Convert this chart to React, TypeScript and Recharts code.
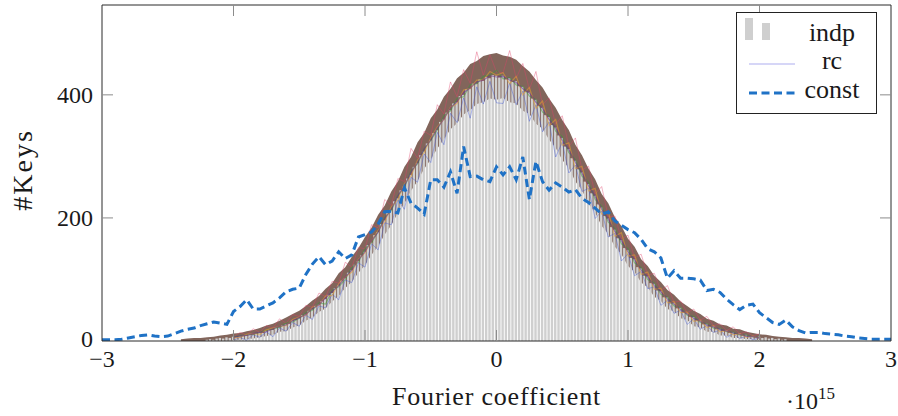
import React from 'react';
import { ComposedChart, Bar, Line, Area, XAxis, YAxis, Legend } from 'recharts';

// ---------------- data ----------------
const X_TICKS = [-3, -2, -1, 0, 1, 2, 3];
const Y_TICKS = [0, 200, 400];
const Y_MAX = 546;
const X_LABEL = 'Fourier coefficient';
const Y_LABEL = '#Keys';
const SERIES_NAMES = ['indp', 'rc', 'const'];

// histogram "indp": bins of width 0.025 from -2.2 to 2.2
const INDP_START = -2.2;
const INDP_STEP = 0.025;
const indpCounts = [
  2, 3, 2, 4, 5, 4, 6, 5, 7, 6,
  8, 8, 9, 11, 10, 12, 14, 13, 16, 18,
  18, 22, 22, 26, 27, 28, 33, 34, 37, 42,
  43, 49, 51, 57, 59, 65, 68, 75, 78, 86,
  90, 98, 102, 111, 115, 124, 130, 139, 145, 156,
  160, 172, 177, 190, 196, 208, 213, 227, 232, 245,
  251, 264, 270, 283, 289, 302, 308, 321, 326, 338,
  343, 356, 360, 371, 375, 386, 388, 398, 400, 409,
  410, 418, 418, 425, 423, 429, 427, 432,
  431,
  428, 431, 425, 427, 421, 422, 414, 413, 405, 404,
  394, 392, 382, 379, 367, 364, 351, 347, 334, 330,
  316, 312, 297, 293, 279, 274, 259, 255, 240, 236,
  222, 217, 203, 199, 185, 181, 167, 164, 151, 148,
  135, 133, 120, 118, 106, 105, 94, 93, 82, 81,
  71, 71, 61, 62, 53, 54, 46, 45, 39, 39,
  33, 33, 27, 28, 23, 24, 19, 20, 16, 17,
  13, 14, 11, 12, 9, 10, 7, 8, 6, 7,
  5, 6, 4, 5, 3, 4, 2, 3,
];

// "rc": envelope of the many runs, step 0.05 from -2.4 to 2.4
const RC_BAND_START = -2.4;
const RC_BAND_STEP = 0.05;
const rcLow = [
  0, 0, 0, 0, 0, 0, 0, 0, 1, 2,
  3, 4, 6, 8, 10, 15, 16, 22, 25, 33,
  38, 47, 53, 64, 73, 86, 96, 111, 123, 140,
  154, 173, 188, 208, 224, 244, 260, 280, 295, 313,
  328, 344, 354, 368, 375, 385, 388, 394,
  392,
  395, 388, 386, 374, 369, 353, 345, 327, 314, 294,
  281, 259, 245, 223, 209, 187, 174, 153, 141, 122,
  112, 95, 87, 72, 65, 52, 48, 37, 34, 24,
  22, 15, 15, 9, 9, 5, 5, 3, 3, 1,
  0, 0, 0, 0, 0, 0, 0, 0,
];
const rcHigh = [
  3, 4, 5, 5, 6, 7, 9, 10, 12, 13,
  16, 18, 21, 25, 28, 33, 38, 44, 49, 57,
  66, 73, 85, 94, 110, 120, 137, 151, 169, 184,
  205, 220, 243, 259, 283, 299, 323, 338, 362, 376,
  397, 410, 427, 436, 450, 455, 463, 466,
  468,
  464, 462, 457, 447, 438, 424, 412, 394, 379, 359,
  343, 319, 302, 280, 263, 239, 224, 201, 187, 166,
  153, 133, 122, 106, 96, 83, 75, 64, 57, 49,
  44, 36, 33, 27, 25, 20, 19, 15, 13, 11,
  10, 8, 7, 6, 5, 5, 4, 3,
];

// a few individual "rc" runs, step 0.05 from -2 to 2
const RC_LINE_START = -2.0;
const RC_LINE_STEP = 0.05;
const rcRunA = [
  7, 14, 10, 20, 14, 25, 21, 36, 29, 43, 40, 58, 55, 78, 72, 97, 94, 128, 120, 152,
  150, 189, 184, 230, 220, 264, 259, 313, 297, 341, 334, 384, 369, 421, 397, 441, 419, 470, 432, 465,
  437,
  436, 472, 427, 451, 409, 438, 384, 395, 352, 366, 316, 330, 278, 284, 239, 251, 202, 203, 166, 172,
  135, 141, 107, 110, 82, 90, 63, 65, 46, 52, 34, 40, 25, 28, 17, 23, 12, 15, 8, 12,
];
const rcRunB = [
  1, 6, 1, 10, 6, 15, 7, 21, 16, 30, 24, 42, 35, 57, 54, 76, 67, 99, 95, 127,
  120, 158, 148, 192, 189, 229, 214, 266, 258, 304, 290, 339, 319, 370, 355, 395, 362, 413, 385, 422,
  387,
  386, 419, 384, 406, 357, 384, 340, 356, 299, 323, 273, 286, 243, 248, 199, 211, 169, 175, 130, 142,
  106, 113, 85, 88, 58, 66, 45, 50, 27, 36, 19, 25, 14, 18, 6, 12, 4, 8, 2, 5,
];
const rcRunC = [
  7, 8, 10, 11, 14, 17, 20, 22, 29, 31, 37, 46, 50, 62, 60, 82, 88, 100, 120, 128,
  150, 160, 178, 201, 212, 236, 250, 276, 288, 312, 326, 343, 366, 374, 394, 397, 416, 418, 430, 432,
  440,
  426, 428, 416, 414, 398, 392, 372, 366, 341, 332, 306, 295, 268, 258, 230, 219, 193, 183, 158, 150,
  127, 119, 100, 94, 76, 71, 57, 54, 42, 40, 30, 28, 21, 20, 15, 14, 10, 9, 7, 5,
];
const rcRunD = [
  5, 6, 11, 12, 11, 18, 21, 24, 25, 35, 39, 42, 55, 58, 73, 74, 93, 104, 112, 133,
  143, 163, 180, 194, 218, 230, 256, 268, 294, 306, 330, 348, 360, 380, 386, 408, 410, 424, 424, 438,
  432,
  436, 418, 430, 400, 412, 378, 390, 350, 360, 318, 322, 280, 284, 244, 248, 206, 210, 170, 176, 138,
  140, 108, 112, 84, 86, 62, 64, 46, 47, 32, 34, 22, 25, 15, 17, 10, 12, 6, 8, 4,
];
const rcRunE = [
  6, 8, 9, 12, 14, 15, 20, 24, 26, 33, 38, 43, 53, 59, 70, 80, 90, 104, 115, 132,
  145, 163, 177, 199, 214, 236, 252, 274, 290, 312, 327, 346, 361, 379, 389, 404, 411, 421, 424, 431,
  429,
  430, 424, 420, 410, 403, 388, 378, 360, 346, 326, 311, 290, 273, 252, 235, 214, 198, 178, 163, 145,
  132, 115, 104, 90, 80, 68, 60, 51, 44, 37, 32, 26, 23, 19, 16, 13, 11, 8, 7, 5,
];

// "const": step 0.05 from -3 to 3
const CONST_START = -3;
const CONST_STEP = 0.05;
const constCounts = [
  2, 2, 2, 3, 5, 7, 9, 10, 8, 7,
  8, 12, 16, 19, 21, 25, 28, 31, 29, 27,
  48, 56, 67, 52, 52, 57, 62, 70, 80, 84,
  86, 108, 125, 137, 124, 130, 145, 134, 140, 169,
  173, 177, 190, 210, 211, 208, 249, 224, 216, 206,
  262, 262, 250, 275, 240, 316, 267, 268, 262, 259,
  283,
  270, 283, 262, 299, 230, 292, 259, 245, 257, 250,
  242, 246, 232, 225, 216, 206, 210, 195, 188, 181,
  176, 165, 150, 145, 135, 102, 114, 102, 102, 101,
  99, 82, 84, 79, 68, 59, 51, 58, 60, 46,
  38, 30, 27, 34, 23, 17, 13, 14, 14, 12,
  11, 10, 8, 7, 5, 4, 3, 3, 3, 3,
];

// ---------------- derived tables ----------------
const at = (start: number, step: number, i: number) => +(start + i * step).toFixed(4);

const indpData = indpCounts.map((v, i) => ({ x: at(INDP_START, INDP_STEP, i), indp: v }));
const rcBandData = rcLow.map((lo, i) => ({ x: at(RC_BAND_START, RC_BAND_STEP, i), band: [lo, rcHigh[i]] }));
const rcRunData = rcRunA.map((a, i) => ({
  x: at(RC_LINE_START, RC_LINE_STEP, i),
  a,
  b: rcRunB[i],
  c: rcRunC[i],
  d: rcRunD[i],
  e: rcRunE[i],
}));
const constData = constCounts.map((v, i) => ({ x: at(CONST_START, CONST_STEP, i), v }));

// ---------------- styling / layout ----------------
const W = 898;
const H = 416;
const PLOT = { left: 102, right: 891, top: 5, bottom: 341 };
const AX = 1; // thickness reserved for each axis box
const MARGIN = {
  top: PLOT.top - AX,
  right: W - PLOT.right - AX,
  bottom: H - PLOT.bottom - AX,
  left: PLOT.left - AX,
};
const FONT = '"Liberation Serif", "Times New Roman", serif';
const TXT = '#1a1a1a';
const TICK_COLOR = '#8c8c8c';
const TICK_LEN = 11;
const FRAME = '#2b2b2b';
const BAR_COLOR = '#cfcfcf';
const BAND_COLOR = '#6c4a3e';
const CONST_COLOR = '#1f72c6';
const RC_LEGEND_COLOR = '#c9c9f5';
const RUNS = [
  { key: 'a', color: '#e0406a', op: 0.4, w: 1 },
  { key: 'b', color: '#3850d8', op: 0.4, w: 1 },
  { key: 'c', color: '#3a9a3a', op: 0.5, w: 1.2 },
  { key: 'd', color: '#e8a030', op: 0.55, w: 1.2 },
  { key: 'e', color: '#6a2c91', op: 0.55, w: 1.2 },
];

const fmtX = (v: number) => (v < 0 ? '\u2212' + Math.abs(v) : String(v));
const isEnd = (v: number) => v === X_TICKS[0] || v === X_TICKS[X_TICKS.length - 1];

const BottomTick = (p: any) => (
  <g>
    {!isEnd(p.payload.value) && (
      <line x1={p.x} x2={p.x} y1={PLOT.bottom} y2={PLOT.bottom - TICK_LEN} stroke={TICK_COLOR} />
    )}
    <text x={p.x} y={PLOT.bottom + 26} textAnchor="middle" fontFamily={FONT} fontSize={24} fill={TXT}>
      {fmtX(p.payload.value)}
    </text>
  </g>
);
const TopTick = (p: any) =>
  isEnd(p.payload.value) ? <g /> : (
    <line x1={p.x} x2={p.x} y1={PLOT.top} y2={PLOT.top + TICK_LEN} stroke={TICK_COLOR} />
  );
const LeftTick = (p: any) => (
  <g>
    {p.payload.value !== 0 && (
      <line x1={PLOT.left} x2={PLOT.left + TICK_LEN} y1={p.y} y2={p.y} stroke={TICK_COLOR} />
    )}
    <text x={PLOT.left - 9} y={p.y + (p.payload.value === 0 ? 6 : 8)} textAnchor="end" fontFamily={FONT} fontSize={24} fill={TXT}>
      {p.payload.value}
    </text>
  </g>
);
const RightTick = (p: any) =>
  p.payload.value === 0 ? <g /> : (
    <line x1={PLOT.right - TICK_LEN} x2={PLOT.right} y1={p.y} y2={p.y} stroke={TICK_COLOR} />
  );

const renderLegend = () => (
  <svg width={141} height={102} style={{ display: 'block' }}>
    <rect x={0.5} y={0.5} width={140} height={101} fill="#fff" stroke="#222" strokeWidth={1} />
    <rect x={9} y={6} width={8} height={22} fill={BAR_COLOR} />
    <rect x={26} y={11} width={8} height={17} fill={BAR_COLOR} />
    <text x={96} y={29} textAnchor="middle" fontFamily={FONT} fontSize={26} fill={TXT}>{SERIES_NAMES[0]}</text>
    <line x1={13} x2={59} y1={52} y2={52} stroke={RC_LEGEND_COLOR} strokeWidth={1.5} />
    <text x={96} y={57} textAnchor="middle" fontFamily={FONT} fontSize={26} fill={TXT}>{SERIES_NAMES[1]}</text>
    <line x1={13} x2={59} y1={81} y2={81} stroke={CONST_COLOR} strokeWidth={3} strokeDasharray="8 4.5" />
    <text x={96} y={86} textAnchor="middle" fontFamily={FONT} fontSize={26} fill={TXT}>{SERIES_NAMES[2]}</text>
  </svg>
);

const xAxisCommon = {
  dataKey: 'x',
  type: 'number' as const,
  domain: [X_TICKS[0], X_TICKS[X_TICKS.length - 1]] as [number, number],
  ticks: X_TICKS,
  allowDataOverflow: true,
  height: AX,
  tickLine: false,
  axisLine: { stroke: FRAME },
  interval: 0 as const,
};
const yAxisCommon = {
  type: 'number' as const,
  domain: [0, Y_MAX] as [number, number],
  ticks: Y_TICKS,
  allowDataOverflow: true,
  width: AX,
  tickLine: false,
  axisLine: { stroke: FRAME },
  interval: 0 as const,
};

export default function App() {
  return (
    <div style={{ position: 'absolute', left: 0, top: 0, width: W, height: H, background: '#fff' }}>
      <ComposedChart width={W} height={H} data={indpData} margin={MARGIN} style={{ fontFamily: FONT }}>
        <Bar xAxisId="x" yAxisId="y" dataKey="indp" fill={BAR_COLOR} barSize={2.4} isAnimationActive={false} legendType="none" />
        <Area
          xAxisId="x"
          yAxisId="y"
          data={rcBandData}
          dataKey="band"
          type="linear"
          stroke="none"
          fill={BAND_COLOR}
          fillOpacity={0.85}
          isAnimationActive={false}
          legendType="none"
        />
        {RUNS.map((r) => (
          <Line
            key={r.key}
            xAxisId="x"
            yAxisId="y"
            data={rcRunData}
            dataKey={r.key}
            type="linear"
            stroke={r.color}
            strokeOpacity={r.op}
            strokeWidth={r.w}
            dot={false}
            activeDot={false}
            isAnimationActive={false}
            legendType="none"
          />
        ))}
        <Line
          xAxisId="x"
          yAxisId="y"
          data={constData}
          dataKey="v"
          type="linear"
          stroke={CONST_COLOR}
          strokeWidth={3}
          strokeDasharray="8 4.5"
          dot={false}
          activeDot={false}
          isAnimationActive={false}
          legendType="none"
        />
        <XAxis xAxisId="x" {...xAxisCommon} tick={(p: any) => <BottomTick {...p} />} />
        <XAxis xAxisId="xt" orientation="top" {...xAxisCommon} tick={(p: any) => <TopTick {...p} />} />
        <YAxis yAxisId="y" {...yAxisCommon} tick={(p: any) => <LeftTick {...p} />} />
        <YAxis yAxisId="yr" orientation="right" {...yAxisCommon} tick={(p: any) => <RightTick {...p} />} />
        <Legend
          layout="vertical"
          align="center"
          verticalAlign="middle"
          content={renderLegend}
          wrapperStyle={{ position: 'absolute', left: 736, top: 12, width: 141, height: 102 }}
        />
        <text
          x={(PLOT.left + PLOT.right) / 2}
          y={405}
          textAnchor="middle"
          fontFamily={FONT}
          fontSize={26}
          letterSpacing={0.8}
          fill={TXT}
        >
          {X_LABEL}
        </text>
        <text x={786} y={409} fontFamily={FONT} fontSize={24} fill={TXT}>
          {'\u00b710'}
          <tspan fontSize={17} dy={-10}>15</tspan>
        </text>
        <text
          x={32}
          y={170}
          textAnchor="middle"
          fontFamily={FONT}
          fontSize={28}
          letterSpacing={2}
          fill={TXT}
          transform="rotate(-90, 32, 170)"
        >
          {Y_LABEL}
        </text>
      </ComposedChart>
    </div>
  );
}
